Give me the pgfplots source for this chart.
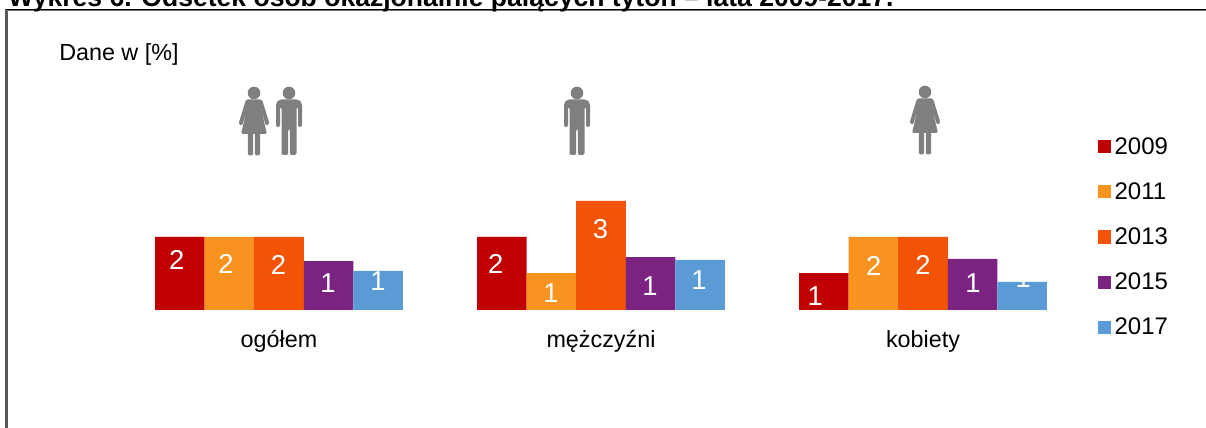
\documentclass[border=0pt]{standalone}
\usepackage{pgfplots}
\pgfplotsset{compat=1.18}
\usepackage{fontspec}
\setmainfont{Liberation Sans}
\definecolor{c09}{HTML}{C00000}
\definecolor{c11}{HTML}{F7931E}
\definecolor{c13}{HTML}{F35305}
\definecolor{c15}{HTML}{7B2380}
\definecolor{c17}{HTML}{5B9BD5}
\definecolor{ic}{HTML}{7F7F7F}
\newcommand{\man}[1]{\begin{scope}[shift={(#1)}]
\fill[ic] (0,0) circle (6.3);
\fill[ic,rounded corners=1.5pt] (-13,34) [rounded corners=4pt] -- (-13,6.5) -- (13,6.5) [rounded corners=1.5pt] -- (13,34)--(9,34)--(9,14)--(7.5,14)--(7.5,62)--(0.8,62)--(0.8,36)--(-0.8,36)--(-0.8,62)--(-7.5,62)--(-7.5,14)--(-9,14)--(-9,34)--cycle;
\end{scope}}
\newcommand{\woman}[1]{\begin{scope}[shift={(#1)}]
\fill[ic] (0,0) circle (6.3);
\fill[ic,rounded corners=1.2pt] (-8,6.5)--(8,6.5)--(15.5,31)--(12,33)--(7,16)--(13,41)--(-13,41)--(-7,16)--(-12,33)--(-15.5,31)--cycle;
\fill[ic,rounded corners=1.2pt] (-6.2,40)--(-0.8,40)--(-0.8,62.5)--(-6.2,62.5)--cycle;
\fill[ic,rounded corners=1.2pt] (6.2,40)--(0.8,40)--(0.8,62.5)--(6.2,62.5)--cycle;
\end{scope}}
\pgfplotsset{barp/.style={ybar,bar width=0.154,draw=none,fill=#1,
  legend image code/.code={\fill[#1] (0pt,-4.9pt) rectangle (9.75pt,4.9pt);}}}
\begin{document}
\begin{tikzpicture}
\clip (0,0) rectangle (904.5pt,321pt);
\begin{axis}[
  at={(88.5pt,88.5pt)},anchor=south west,
  scale only axis,width=724.5pt,height=87.6pt,
  xmin=-0.5,xmax=2.5,ymin=0,ymax=3.2,
  axis y line=none,axis x line*=bottom,
  x axis line style={draw=none},
  xtick={0,1,2},xticklabels={ogółem,mężczyźni,kobiety},
  xtick style={draw=none},ytick=\empty,
  x tick label style={font=\fontsize{17.5pt}{20pt}\selectfont,yshift=-11.75pt},
  clip=false,
  legend cell align=left,
  legend style={at={(735pt,54.75pt)},anchor=west,draw=none,fill=none,
    font=\fontsize{18pt}{20pt}\selectfont,row sep=14.75pt,inner sep=0pt,
    nodes={inner sep=2.5pt}},
]
\addplot[barp=c09,bar shift=-0.308] coordinates {(0,2) (1,2) (2,1.01)};
\addlegendentry{2009}
\addplot[barp=c11,bar shift=-0.154] coordinates {(0,2) (1,1.01) (2,2)};
\addlegendentry{2011}
\addplot[barp=c13,bar shift=0] coordinates {(0,2) (1,2.99) (2,2)};
\addlegendentry{2013}
\addplot[barp=c15,bar shift=0.154] coordinates {(0,1.34) (1,1.45) (2,1.40)};
\addlegendentry{2015}
\addplot[barp=c17,bar shift=0.308] coordinates {(0,1.07) (1,1.37) (2,0.77)};
\addlegendentry{2017}
\addplot[draw=none,forget plot,nodes near coords,point meta=explicit symbolic,
  every node near coord/.style={anchor=center,inner sep=0pt,text=white,font=\fontsize{20.5pt}{22pt}\selectfont}]
  table[x=x,y=y,meta=l] {
x y l
-0.318 1.37 2
-0.165 1.26 2
-0.002 1.23 2
0.152 0.74 1
0.307 0.79 1
0.673 1.26 2
0.845 0.47 1
0.998 2.22 3
1.152 0.66 1
1.304 0.82 1
1.665 0.38 1
1.847 1.21 2
2.000 1.23 2
2.155 0.74 1
2.311 0.88 1
};
\end{axis}
\begin{scope}[shift={(0pt,321pt)},x=.75pt,y=-.75pt]
\draw[color=black!65,line width=1.6pt] (6.5,428)--(6.5,9.5);
\draw[color=black!55,line width=1.6pt] (6,10.2)--(1206,10.2);
\draw[color=black,line width=.8pt] (6,9.2)--(1206,9.2);
\node[anchor=base west,inner sep=0pt,font=\bfseries\fontsize{19.9pt}{22pt}\selectfont] at (8,6.5) {Wykres 6. Odsetek osób okazjonalnie palących tytoń – lata 2009-2017.};
\node[anchor=base west,inner sep=0pt,font=\fontsize{17.5pt}{20pt}\selectfont] at (59,61) {Dane w [\%]};
\woman{254,93}
\man{289,93}
\man{577,93}
\woman{925,92}
\end{scope}
\end{tikzpicture}
\end{document}
